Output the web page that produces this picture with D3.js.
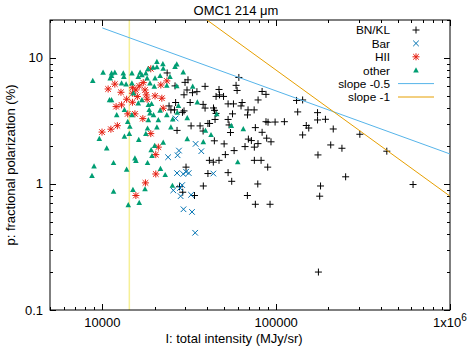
<!DOCTYPE html>
<html><head><meta charset="utf-8">
<script src="https://cdn.jsdelivr.net/npm/d3@7"></script>
<style>
body{margin:0;background:#fff}
svg{display:block}
text{font-family:"Liberation Sans",Arial,Helvetica,sans-serif;font-size:13px;fill:#000}
</style>
</head><body>
<svg id="chart" width="471" height="346"></svg>
<script>
// ---- data: [I (MJy/sr), p (%)] ----
const bnkl = [
[23600,7.6],[31100,6.7],[29900,6.4],[26200,6.0],[39000,5.95],[30700,5.57],[33000,5.3],[35000,5.4],
[29500,5.1],[26400,4.43],[32000,4.43],[38000,4.28],[24200,4.16],[24800,3.87],[26000,3.87],[29500,3.8],
[28900,3.7],[39000,4.0],[40500,3.02],[32400,2.89],[36500,2.89],[26900,2.66],[61000,7.0],[58800,6.06],
[59600,5.52],[46900,5.62],[47200,5.09],[45100,4.95],[49800,4.95],[83000,5.42],[87400,5.14],[78700,4.64],
[63700,4.43],[62800,4.16],[56800,4.32],[52900,4.32],[74700,3.87],[68900,3.87],[68400,3.53],[56100,3.6],
[43600,4.01],[44200,3.84],[45100,3.63],[44500,3.25],[52900,3.25],[41400,3.02],[53600,2.94],[54600,2.56],
[87400,3.12],[89800,3.09],[98600,3.1],[111500,3.12],[75900,2.8],[83000,2.57],[88200,2.31],[93400,2.16],
[133000,3.73],[131000,4.6],[142000,4.64],[173000,3.68],[173000,3.22],[192000,3.26],[149000,2.91],[154000,2.78],
[142000,2.45],[213000,2.73],[206000,2.04],[239000,1.92],[303000,2.48],[174000,1.7],[433000,1.82],[251000,1.14],
[180000,0.964],[178000,0.80],[613000,0.99],[175000,0.2],[69200,2.27],[72000,2.21],[66200,1.98],[74900,1.96],
[78600,2.09],[50200,2.08],[44100,2.2],[38000,2.63],[41300,1.54],[43500,1.49],[46900,1.54],[51000,1.71],
[74900,1.54],[81900,1.54],[89400,1.36],[52900,1.23],[55500,1.05],[78400,1.0],[38100,0.964],[30300,1.36],
[40500,1.21],[29000,0.86],[27800,0.95],[33900,0.81],[68300,0.81],[75900,0.69],[92200,0.69],[57300,1.84]
];
const bar = [
[26400,3.31],[27600,1.84],[34400,2.08],[37100,1.82],[23900,1.63],[27100,1.69],[26900,1.22],[29200,1.2],
[30300,1.25],[31400,1.22],[43500,1.21],[28800,0.98],[28000,0.93],[25600,0.89],[28200,0.80],[32400,0.82],
[29300,0.63],[32800,0.6],[34200,0.41]
];
const hii = [
[19000,8.2],[23500,6.57],[11800,6.2],[10800,5.67],[12800,5.34],[14900,5.8],[16300,6.0],[17200,6.37],
[15600,5.57],[14900,5.25],[21700,6.1],[17600,5.57],[17900,5.09],[18100,4.7],[20100,5.0],[22000,4.79],
[13800,4.7],[14900,4.45],[12900,4.24],[12000,4.11],[15900,4.94],[22400,3.99],[14000,3.6],[15400,3.6],
[17100,3.3],[12200,2.9],[11200,2.72],[9960,2.58],[19000,2.51],[21000,1.96],[20300,1.71],[20300,1.2],
[17700,1.02],[15600,0.81]
];
const other = [
[20600,9.34],[22300,8.96],[26800,8.9],[26200,8.5],[10100,7.65],[11800,7.65],[11300,7.56],[13200,7.56],
[14800,7.56],[16500,7.65],[17800,7.56],[19600,8.38],[20600,8.45],[22400,8.22],[29200,7.7],[8810,6.6],
[11300,7.2],[11100,6.9],[13300,7.1],[16100,7.1],[16900,7.33],[18100,6.9],[20100,6.9],[21500,7.2],
[24500,7.1],[12900,6.3],[13700,6.19],[14800,6.3],[18800,6.3],[19900,5.94],[23500,6.03],[15100,5.25],
[11300,4.64],[11000,4.64],[16900,4.64],[18400,4.24],[19200,4.32],[16100,4.37],[13400,3.87],[12100,3.53],
[14800,3.53],[18600,3.87],[18800,3.64],[19700,3.53],[21500,3.82],[23500,3.53],[21000,3.22],[25400,3.26],
[14000,3.12],[18400,3.22],[14400,2.85],[18200,2.76],[20600,2.82],[24800,2.82],[13400,2.38],[9610,2.28],
[16200,2.24],[17800,2.5],[30800,2.27],[38100,2.15],[10600,1.92],[19100,1.86],[19300,1.67],[15400,1.6],
[8960,1.38],[11600,1.47],[15600,1.53],[18200,1.47],[21600,1.32],[13800,1.3],[8720,1.16],[23000,1.18],
[11600,0.87],[15000,0.9],[17600,0.91],[25300,0.97],[16300,0.71],[14100,0.68],[26800,5.97],[33100,5.94],
[35200,4.45],[27400,4.18],[27000,3.68],[45500,3.58],[30800,3.34],[42200,2.45],[39200,2.65],[55200,2.9],
[64700,2.73],[60100,1.49],[18300,8.18],[14300,2.5],[22400,2.13],[20000,2.01]
];
const slopeHalf = [[10000,17.3],[1000000,1.73]];
const slopeOne = [[10000,80],[1000000,0.8]];
const vlineI = 14300;
const xTickVals = [10000,100000,1000000];
const yTickVals = [0.1,1,10];
const legendLabels = ["BN/KL","Bar","HII","other","slope -0.5","slope -1"];

// ---- layout ----
const L=50,R=450,T=20,B=310;
const svg=d3.select("#chart");
const x=d3.scaleLog().domain([5000,1e6]).range([L,R]);
const y=d3.scaleLog().domain([0.1,20]).range([B,T]);

svg.append("defs").append("clipPath").attr("id","clip")
  .append("rect").attr("x",L).attr("y",T).attr("width",R-L).attr("height",B-T);

// vertical line
svg.append("line").attr("x1",x(vlineI)).attr("x2",x(vlineI)).attr("y1",T).attr("y2",B)
  .attr("stroke","#f0e442").attr("stroke-width",1.5).attr("opacity",0.55);

// ticks
const minorX=[],minorY=[];
for(let e=3;e<=6;e++)for(let k=1;k<10;k++){const v=k*Math.pow(10,e);if(v>=5000&&v<=1e6)minorX.push(v);}
for(let e=-1;e<=1;e++)for(let k=1;k<10;k++){const v=k*Math.pow(10,e);if(v>=0.1&&v<=20)minorY.push(v);}
minorY.push(20);
const tg=svg.append("g").attr("stroke","#000").attr("stroke-width",1);
minorX.forEach(v=>{
  const maj=xTickVals.includes(v), len=maj?6:3, px=Math.round(x(v))+0.5;
  tg.append("line").attr("x1",px).attr("x2",px).attr("y1",B).attr("y2",B-len);
  tg.append("line").attr("x1",px).attr("x2",px).attr("y1",T).attr("y2",T+len);
});
minorY.forEach(v=>{
  const maj=yTickVals.includes(v), len=maj?6:3, py=Math.round(y(v))+0.5;
  tg.append("line").attr("y1",py).attr("y2",py).attr("x1",L).attr("x2",L+len);
  tg.append("line").attr("y1",py).attr("y2",py).attr("x1",R).attr("x2",R-len);
});

// border
svg.append("rect").attr("x",L).attr("y",T).attr("width",R-L).attr("height",B-T)
  .attr("fill","none").attr("stroke","#000").attr("stroke-width",1);

// tick labels
xTickVals.forEach(v=>{
  const t=svg.append("text").attr("x",x(v)).attr("y",B+17).attr("text-anchor","middle");
  if(v===1e6){t.text("1x10");t.append("tspan").attr("dy",-6).attr("font-size","10px").text("6");}
  else t.text(String(v));
});
yTickVals.forEach(v=>{
  svg.append("text").attr("x",L-7).attr("y",y(v)+4.5).attr("text-anchor","end").text(String(v));
});

// axis titles
svg.append("text").attr("x",234).attr("y",343).attr("text-anchor","middle").text("I: total intensity (MJy/sr)");
svg.append("text").attr("transform","translate(15,165) rotate(-90)").attr("text-anchor","middle")
  .text("p: fractional polarization (%)");
svg.append("text").attr("x",236).attr("y",15).attr("text-anchor","middle").text("OMC1 214 \u03bcm");

// markers
const plusP="M-3.5,0H3.5M0,-3.5V3.5";
const xP="M-2.8,-2.8L2.8,2.8M-2.8,2.8L2.8,-2.8";
const starP=plusP+xP;
const triP="M0,-3L2.8,2.2L-2.8,2.2Z";
const pg=svg.append("g").attr("clip-path","url(#clip)");
function pts(data,path,col,fill){
  pg.selectAll(null).data(data).enter().append("path")
    .attr("transform",d=>`translate(${x(d[0])},${y(d[1])})`)
    .attr("d",path)
    .attr("fill",fill?col:"none").attr("stroke",fill?"none":col).attr("stroke-width",1);
}
pts(bnkl,plusP,"#000",false);
pts(bar,xP,"#0072b2",false);
pts(hii,starP,"#e51e10",false);
pts(other,triP,"#009e73",true);

// slope lines
const line=d3.line().x(d=>x(d[0])).y(d=>y(d[1]));
pg.append("path").attr("d",line(slopeHalf)).attr("fill","none").attr("stroke","#56b4e9").attr("stroke-width",1);
pg.append("path").attr("d",line(slopeOne)).attr("fill","none").attr("stroke","#e69f00").attr("stroke-width",1);

// legend
const lg=svg.append("g");
const ly=[30,43.4,56.8,70.2,83.6,97];
const symb=[[plusP,"#000",false],[xP,"#0072b2",false],[starP,"#e51e10",false],[triP,"#009e73",true]];
legendLabels.forEach((s,i)=>{
  lg.append("text").attr("x",390).attr("y",ly[i]+4.3).attr("text-anchor","end")
    .style("font-size","11.8px").text(s);
  if(i<4){
    const [p,c,f]=symb[i];
    lg.append("path").attr("transform",`translate(416,${ly[i]})`).attr("d",p)
      .attr("fill",f?c:"none").attr("stroke",f?"none":c).attr("stroke-width",1);
  } else {
    lg.append("line").attr("x1",398).attr("x2",434).attr("y1",ly[i]).attr("y2",ly[i])
      .attr("stroke",i===4?"#56b4e9":"#e69f00").attr("stroke-width",1);
  }
});
</script>
</body></html>
